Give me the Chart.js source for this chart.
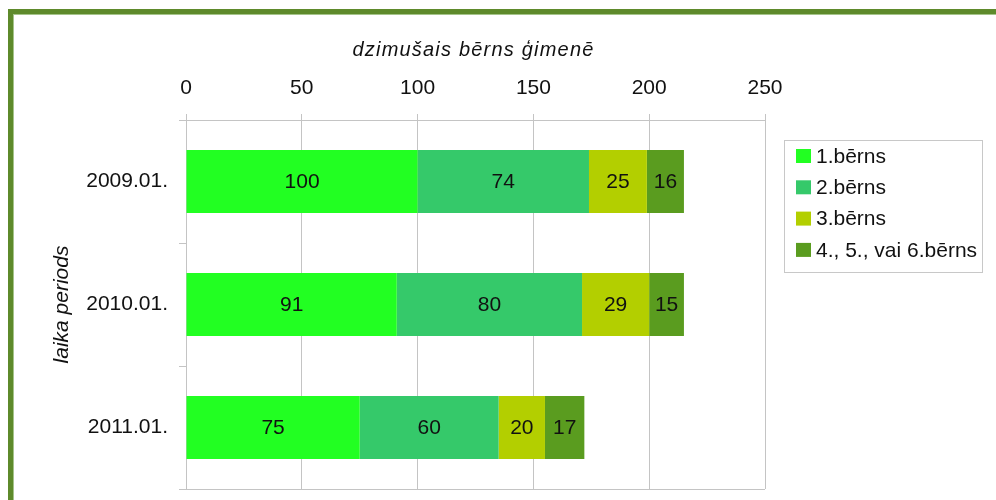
<!DOCTYPE html>
<html>
<head>
<meta charset="utf-8">
<script src="https://cdn.jsdelivr.net/npm/chart.js@4"></script>
<style>
  body { margin: 0; background: #fff; }
  #wrap { width: 996px; height: 500px; position: relative; }
</style>
</head>
<body>
<div id="wrap"><canvas id="bernsChart"></canvas></div>
<script>
const categories = ['2009.01.', '2010.01.', '2011.01.'];
const seriesNames = ['1.bērns', '2.bērns', '3.bērns', '4., 5., vai 6.bērns'];
const first = [100, 91, 75];
const second = [74, 80, 60];
const third = [25, 29, 20];
const fourth = [16, 15, 17];
const xTicks = [0, 50, 100, 150, 200, 250];
const colors = ['#22ff22', '#35c96a', '#b3cf00', '#5a9c1f'];
const xTitle = 'dzimušais bērns ģimenē';
const yTitle = 'laika periods';

const FONT = 'Liberation Sans, Arial, sans-serif';
const GRID = '#c4c4c4';

// green frame round the picture
const framePlugin = {
  id: 'frame',
  beforeDraw(chart) {
    const ctx = chart.ctx;
    ctx.save();
    ctx.fillStyle = '#5e8a2b';
    ctx.fillRect(8, 9, 996, 5);
    ctx.fillRect(8, 9, 5, 500);
    ctx.fillStyle = '#a5c48a';
    ctx.fillRect(13, 14, 996, 1);
    ctx.fillRect(13, 14, 1, 500);
    ctx.restore();
  }
};

// numbers in the middle of each segment
const valueLabels = {
  id: 'valueLabels',
  afterDatasetsDraw(chart) {
    const ctx = chart.ctx;
    ctx.save();
    ctx.font = '21px ' + FONT;
    ctx.fillStyle = '#111';
    ctx.textAlign = 'center';
    ctx.textBaseline = 'middle';
    chart.data.datasets.forEach((ds, i) => {
      chart.getDatasetMeta(i).data.forEach((bar, j) => {
        const p = bar.getCenterPoint();
        ctx.fillText(ds.data[j], p.x, p.y + 1);
      });
    });
    ctx.restore();
  }
};

// axis titles (spaced italic like the original)
const axisTitles = {
  id: 'axisTitles',
  afterDraw(chart) {
    const ctx = chart.ctx;
    const a = chart.chartArea;
    ctx.save();
    ctx.fillStyle = '#111';
    ctx.textAlign = 'center';
    ctx.textBaseline = 'middle';
    ctx.font = 'italic 20px ' + FONT;
    ctx.letterSpacing = '1.2px';
    ctx.fillText(xTitle, (a.left + a.right) / 2 - 2, 50);
    ctx.letterSpacing = '0px';
    ctx.font = 'italic 21px ' + FONT;
    ctx.translate(62, (a.top + a.bottom) / 2);
    ctx.rotate(-Math.PI / 2);
    ctx.fillText(yTitle, 0, 0);
    ctx.restore();
  }
};

// boxed legend on the right
const boxLegend = {
  id: 'boxLegend',
  afterDraw(chart) {
    const ctx = chart.ctx;
    const left = chart.chartArea.right + 19;
    const top = chart.chartArea.top + 20;
    ctx.save();
    ctx.strokeStyle = '#c8c8c8';
    ctx.lineWidth = 1;
    ctx.strokeRect(left + 0.5, top + 0.5, 198, 132);
    ctx.font = '21px ' + FONT;
    ctx.textBaseline = 'middle';
    chart.data.datasets.forEach((ds, i) => {
      const y = top + 16 + i * 31.3;
      ctx.fillStyle = ds.backgroundColor;
      ctx.fillRect(left + 12, y - 7, 15, 14);
      ctx.fillStyle = '#111';
      ctx.fillText(ds.label, left + 32, y + 1);
    });
    ctx.restore();
  }
};

new Chart(document.getElementById('bernsChart'), {
  type: 'bar',
  data: {
    labels: categories,
    datasets: [first, second, third, fourth].map((d, i) => ({
      label: seriesNames[i],
      data: d,
      backgroundColor: colors[i],
      borderWidth: 0,
      categoryPercentage: 1,
      barPercentage: 0.512
    }))
  },
  options: {
    indexAxis: 'y',
    responsive: true,
    maintainAspectRatio: false,
    animation: false,
    layout: { padding: { left: 0, top: 0, right: 231, bottom: 11 } },
    plugins: { legend: { display: false }, tooltip: { enabled: false } },
    scales: {
      x: {
        position: 'top',
        stacked: true,
        min: 0,
        max: 250,
        afterBuildTicks(scale) { scale.ticks = xTicks.map(v => ({ value: v })); },
        afterFit(scale) { scale.height = 120; scale.paddingLeft = 0; scale.paddingRight = 0; },
        grid: { color: GRID, tickLength: 6, tickColor: GRID },
        border: { color: GRID },
        ticks: { color: '#111', font: { family: FONT, size: 21 }, padding: 13 }
      },
      y: {
        stacked: true,
        afterFit(scale) { scale.width = 186; scale.paddingTop = 0; scale.paddingBottom = 0; },
        grid: {
          offset: true,
          tickLength: 7,
          tickColor: GRID,
          color: (c) => (c.index === 0 || c.index === undefined) ? GRID : 'rgba(0,0,0,0)'
        },
        border: { color: GRID },
        ticks: { color: '#111', font: { family: FONT, size: 21 }, padding: 11 }
      }
    }
  },
  plugins: [framePlugin, valueLabels, axisTitles, boxLegend]
});
</script>
</body>
</html>
